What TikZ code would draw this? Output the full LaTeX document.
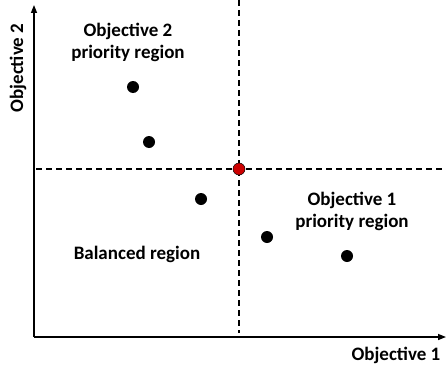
\documentclass[tikz,border=0pt]{standalone}
\usepackage{fontspec}
\setmainfont{Carlito}
\usetikzlibrary{arrows.meta}
\begin{document}
\begin{tikzpicture}[x=1pt,y=-1pt,
  axis/.style={line width=1.4pt,-{Triangle[length=8pt,width=6pt]}},
  divider/.style={line width=1.1pt,dash pattern=on 6pt off 4pt},
  dot/.style={circle,fill=black,inner sep=0pt,minimum size=12pt},
  refdot/.style={circle,fill=red!80!black,draw=black,line width=0.5pt,inner sep=0pt,minimum size=12pt},
  lbl/.style={font=\bfseries\fontsize{19}{22}\selectfont,align=center,inner sep=0pt}]
\useasboundingbox (0,0) rectangle (446,369);
\coordinate (o) at (34,337);
\coordinate (ytip) at (34,5);
\coordinate (xtip) at (446,337);
\coordinate (vtop) at (239,0);
\coordinate (vbot) at (239,333);
\coordinate (hl) at (36,169);
\coordinate (hr) at (446,169);
\draw[divider] (vtop) -- (vbot);
\draw[divider] (hl) -- (hr);
\draw[axis] (o) -- (ytip);
\draw[axis] (o) -- (xtip);
\node[refdot] (r) at (239,169) {};
\node[dot] (p1) at (133,87) {};
\node[dot] (p2) at (149,142) {};
\node[dot] (p3) at (201,199) {};
\node[dot] (p4) at (267,237) {};
\node[dot] (p5) at (347,256) {};
\node[lbl] (t2) at (128,42) {Objective 2\\priority region};
\node[lbl] (t1) at (352,211) {Objective 1\\priority region};
\node[lbl] (tb) at (137,254) {Balanced region};
\node[lbl] (ax1) at (396,355) {Objective 1};
\node[lbl,rotate=90] (ax2) at (18,68) {Objective 2};
\end{tikzpicture}
\end{document}
